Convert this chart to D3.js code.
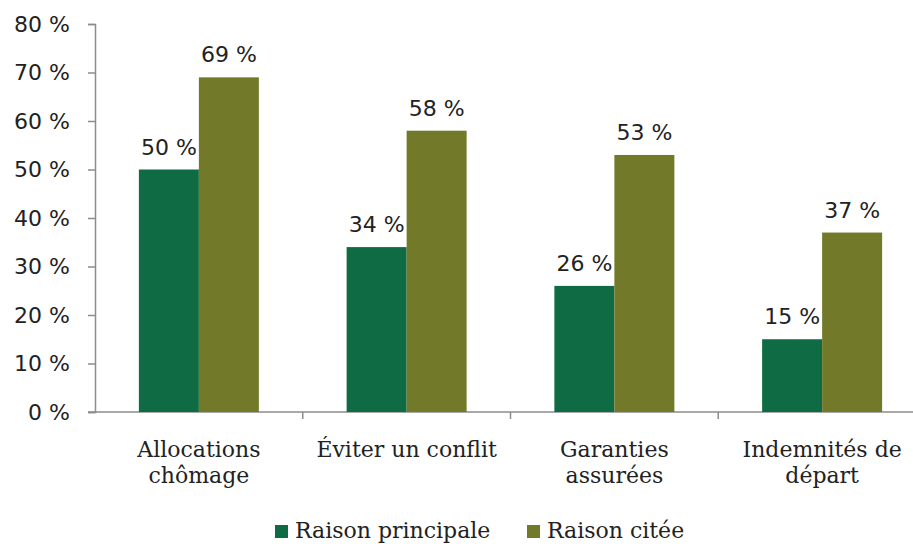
<!DOCTYPE html>
<html>
<head>
<meta charset="utf-8">
<script src="https://cdn.jsdelivr.net/npm/d3@7"></script>
<style>
  body { margin: 0; background: #fff; }
  svg { display: block; }
</style>
</head>
<body>
<div id="viz"></div>
<script>
// chart data
var categories = [['Allocations', 'chômage'], ['Éviter un conflit'], ['Garanties', 'assurées'], ['Indemnités de', 'départ']];
var seriesNames = ['Raison principale', 'Raison citée'];
var principale = [50, 34, 26, 15];
var citee = [69, 58, 53, 37];
var yTicks = [0, 10, 20, 30, 40, 50, 60, 70, 80];
var colors = ['#0E6B43', '#727A29'];

var width = 913, height = 544;
var margin = { top: 24, right: -13, bottom: 132, left: 95 };
var innerH = height - margin.top - margin.bottom;   // 388
var innerW = width - margin.left - margin.right;

var svg = d3.select('#viz').append('svg')
  .attr('width', width)
  .attr('height', height);

var g = svg.append('g')
  .attr('transform', 'translate(' + margin.left + ',' + margin.top + ')');

var x = d3.scaleBand()
  .domain(d3.range(categories.length))
  .range([0, innerW])
  .paddingInner(0)
  .paddingOuter(0);

var x1 = d3.scaleBand()
  .domain([0, 1])
  .range([0, 120]);

var y = d3.scaleLinear()
  .domain([0, 80])
  .range([innerH, 0]);

var sansFont = '"DejaVu Sans", sans-serif';
var serifFont = '"DejaVu Serif", serif';

// y axis
var yAxis = g.append('g')
  .call(d3.axisLeft(y).tickValues(yTicks).tickSize(7).tickPadding(18)
    .tickFormat(function(d) { return d + ' %'; }));
yAxis.select('.domain').attr('stroke', '#8c8c8c').attr('stroke-width', 1.5);
yAxis.selectAll('.tick line').attr('stroke', '#8c8c8c').attr('stroke-width', 1.5);
yAxis.selectAll('.tick text')
  .attr('fill', '#222')
  .style('font-family', sansFont)
  .style('font-size', '22px');

// x axis line + ticks between categories
g.append('line')
  .attr('x1', -7).attr('x2', innerW)
  .attr('y1', innerH).attr('y2', innerH)
  .attr('stroke', '#8c8c8c').attr('stroke-width', 1.5);

g.selectAll('.xtick')
  .data(d3.range(1, categories.length))
  .enter().append('line')
  .attr('x1', function(d) { return x(d); })
  .attr('x2', function(d) { return x(d); })
  .attr('y1', innerH).attr('y2', innerH + 7)
  .attr('stroke', '#8c8c8c').attr('stroke-width', 1.5);

// bars
var groups = g.selectAll('.grp')
  .data(categories.map(function(c, i) { return [principale[i], citee[i]]; }))
  .enter().append('g')
  .attr('transform', function(d, i) {
    return 'translate(' + (x(i) + x.bandwidth() / 2 - 60) + ',0)';
  });

groups.selectAll('rect')
  .data(function(d) { return d; })
  .enter().append('rect')
  .attr('x', function(d, j) { return x1(j); })
  .attr('width', x1.bandwidth())
  .attr('y', function(d) { return y(d); })
  .attr('height', function(d) { return innerH - y(d); })
  .attr('fill', function(d, j) { return colors[j]; });

groups.selectAll('.val')
  .data(function(d) { return d; })
  .enter().append('text')
  .attr('x', function(d, j) { return x1(j) + x1.bandwidth() / 2; })
  .attr('y', function(d) { return y(d) - 15; })
  .attr('text-anchor', 'middle')
  .attr('fill', '#222')
  .style('font-family', sansFont)
  .style('font-size', '22px')
  .text(function(d) { return d + ' %'; });

// category labels
var catLabels = g.selectAll('.cat')
  .data(categories)
  .enter().append('text')
  .attr('text-anchor', 'middle')
  .attr('fill', '#222')
  .style('font-family', serifFont)
  .style('font-size', '22px')
  .attr('transform', function(d, i) {
    return 'translate(' + (x(i) + x.bandwidth() / 2) + ',' + (innerH + 45) + ')';
  });

catLabels.selectAll('tspan')
  .data(function(d) { return d; })
  .enter().append('tspan')
  .attr('x', 0)
  .attr('dy', function(d, k) { return k === 0 ? 0 : 26; })
  .text(function(d) { return d; });

// legend
var legendX = [275, 527];
var legend = svg.selectAll('.leg')
  .data(seriesNames)
  .enter().append('g')
  .attr('transform', function(d, i) { return 'translate(' + legendX[i] + ',0)'; });

legend.append('rect')
  .attr('x', 0).attr('y', 525)
  .attr('width', 13).attr('height', 13)
  .attr('fill', function(d, i) { return colors[i]; });

legend.append('text')
  .attr('x', 20).attr('y', 538)
  .attr('fill', '#222')
  .style('font-family', serifFont)
  .style('font-size', '22px')
  .text(function(d) { return d; });
</script>
</body>
</html>
